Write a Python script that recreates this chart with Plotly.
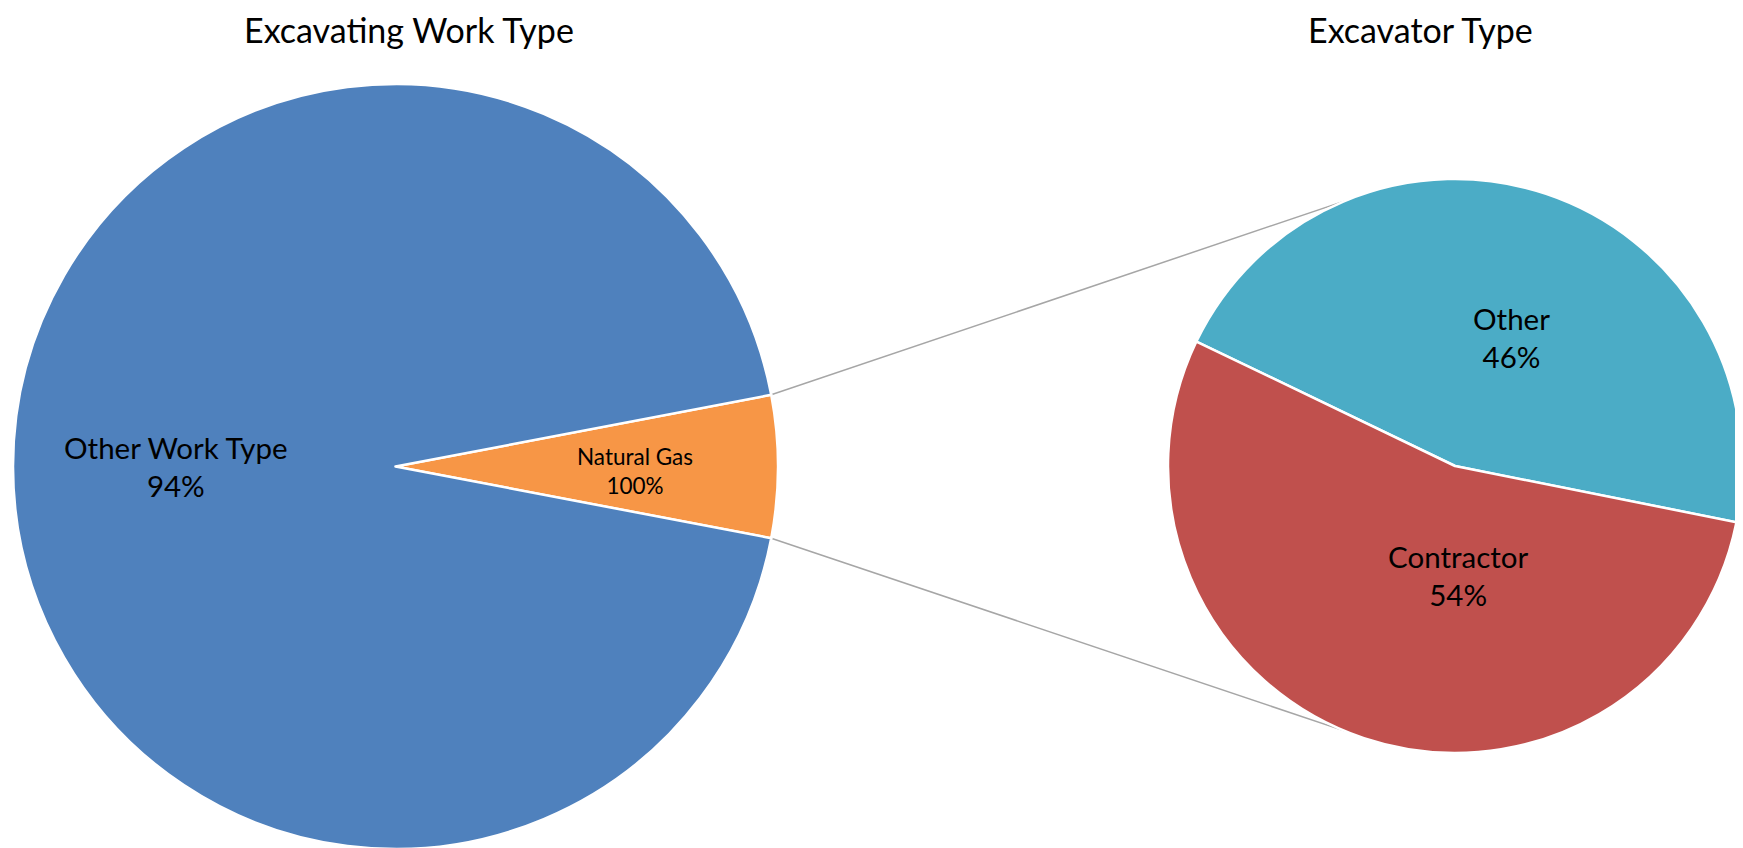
import math
import plotly.graph_objects as go

# ---------------- data ----------------
primary_labels = ["Natural Gas", "Other Work Type"]
primary_values = [6, 94]
primary_shown_pct = ["100%", "94%"]      # as printed in the reference
secondary_labels = ["Other", "Contractor"]
secondary_values = [46, 54]
secondary_shown_pct = ["46%", "54%"]
titles = ["Excavating Work Type", "Excavator Type"]

# ---------------- style ----------------
W, H = 1743, 848
PAGE_OFFSET = 8                            # default body margin of the html page
FONT = "Lato, Carlito, Calibri, sans-serif"
primary_colors = ["#F79646", "#4F81BD"]
secondary_colors = ["#4BACC6", "#C0504D"]
# pie boxes in page pixels (left, top, size)
P_BOX = dict(x0=13, y0=84, size=765)
S_BOX = dict(x0=1168, y0=179, size=574)
SECONDARY_ROTATION = -64.3
CONNECTOR_ANGLE = 22.5                     # deg from vertical on the secondary pie
TITLE_SIZE = 34
LABEL_SIZE = 29.5
SMALL_LABEL_SIZE = 22.5
TITLE_CENTERS = [(409, 30), (1420, 30)]
# label placement: (radial fraction, angle offset in degrees)
P_LABEL_POS = [(0.625, 1.0), (0.575, 0)]
S_LABEL_POS = [(0.49, 5), (0.38, -20)]


def to_paper(px, py):
    return (px - PAGE_OFFSET) / W, 1 - (py - PAGE_OFFSET) / H


def dom(box):
    x0, y0, s = box["x0"], box["y0"], box["size"]
    ax, ay = to_paper(x0, y0 + s)
    bx, by = to_paper(x0 + s, y0)
    return dict(x=[ax, bx], y=[ay, by])


def geom(box):
    r = box["size"] / 2
    return box["x0"] + r, box["y0"] + r, r


p_total = sum(primary_values)
primary_rotation = 90 - 360 * primary_values[0] / p_total / 2

fig = go.Figure()
fig.add_trace(go.Pie(
    labels=primary_labels, values=primary_values, sort=False,
    direction="clockwise", rotation=primary_rotation,
    marker=dict(colors=primary_colors, line=dict(color="white", width=2.5)),
    textinfo="none", hoverinfo="label+percent", domain=dom(P_BOX), showlegend=False,
))
fig.add_trace(go.Pie(
    labels=secondary_labels, values=secondary_values, sort=False,
    direction="clockwise", rotation=SECONDARY_ROTATION,
    marker=dict(colors=secondary_colors, line=dict(color="white", width=2.5)),
    textinfo="none", hoverinfo="label+percent", domain=dom(S_BOX), showlegend=False,
))


def slice_mid_angles(values, rotation):
    tot = sum(values)
    a = rotation
    mids = []
    for v in values:
        span = 360 * v / tot
        mids.append(a + span / 2)
        a += span
    return mids


annotations = []


def add_labels(box, labels, pcts, values, rotation, pos, sizes):
    cx, cy, r = geom(box)
    mids = slice_mid_angles(values, rotation)
    for lab, pct, mid, (fr, off), fs in zip(labels, pcts, mids, pos, sizes):
        ang = math.radians(mid + off)
        px = cx + fr * r * math.sin(ang)
        py = cy - fr * r * math.cos(ang)
        x, y = to_paper(px, py)
        annotations.append(dict(
            x=x, y=y, xref="paper", yref="paper", showarrow=False,
            xanchor="center", yanchor="middle",
            text=f"{lab}<br>{pct}", align="center",
            font=dict(family=FONT, size=fs, color="black"),
        ))


add_labels(P_BOX, primary_labels, primary_shown_pct, primary_values,
           primary_rotation, P_LABEL_POS, [SMALL_LABEL_SIZE, LABEL_SIZE])
add_labels(S_BOX, secondary_labels, secondary_shown_pct, secondary_values,
           SECONDARY_ROTATION, S_LABEL_POS, [LABEL_SIZE, LABEL_SIZE])

# titles
for t, (tx, ty) in zip(titles, TITLE_CENTERS):
    x, y = to_paper(tx, ty)
    annotations.append(dict(x=x, y=y, xref="paper", yref="paper", showarrow=False,
                            xanchor="center", yanchor="middle",
                            text=t, font=dict(family=FONT, size=TITLE_SIZE, color="black")))

# connector lines from the primary "Natural Gas" slice to the secondary pie
pcx, pcy, pr = geom(P_BOX)
scx, scy, sr = geom(S_BOX)
half = math.radians(180 * primary_values[0] / p_total)
shapes = []
for sign in (-1, 1):
    sx = pcx + pr * math.cos(half)
    sy = pcy + sign * pr * math.sin(half)
    a = math.radians(CONNECTOR_ANGLE)
    ex = scx - sr * math.sin(a)
    ey = scy + sign * sr * math.cos(a)
    x0, y0 = to_paper(sx, sy)
    x1, y1 = to_paper(ex, ey)
    shapes.append(dict(type="line", xref="paper", yref="paper", x0=x0, y0=y0, x1=x1, y1=y1,
                       line=dict(color="#A6A6A6", width=1.5), layer="below"))

fig.update_layout(
    width=W, height=H, margin=dict(l=0, r=0, t=0, b=0),
    paper_bgcolor="white", plot_bgcolor="white",
    annotations=annotations, shapes=shapes,
    font=dict(family=FONT),
)

fig.write_html("out.html")
